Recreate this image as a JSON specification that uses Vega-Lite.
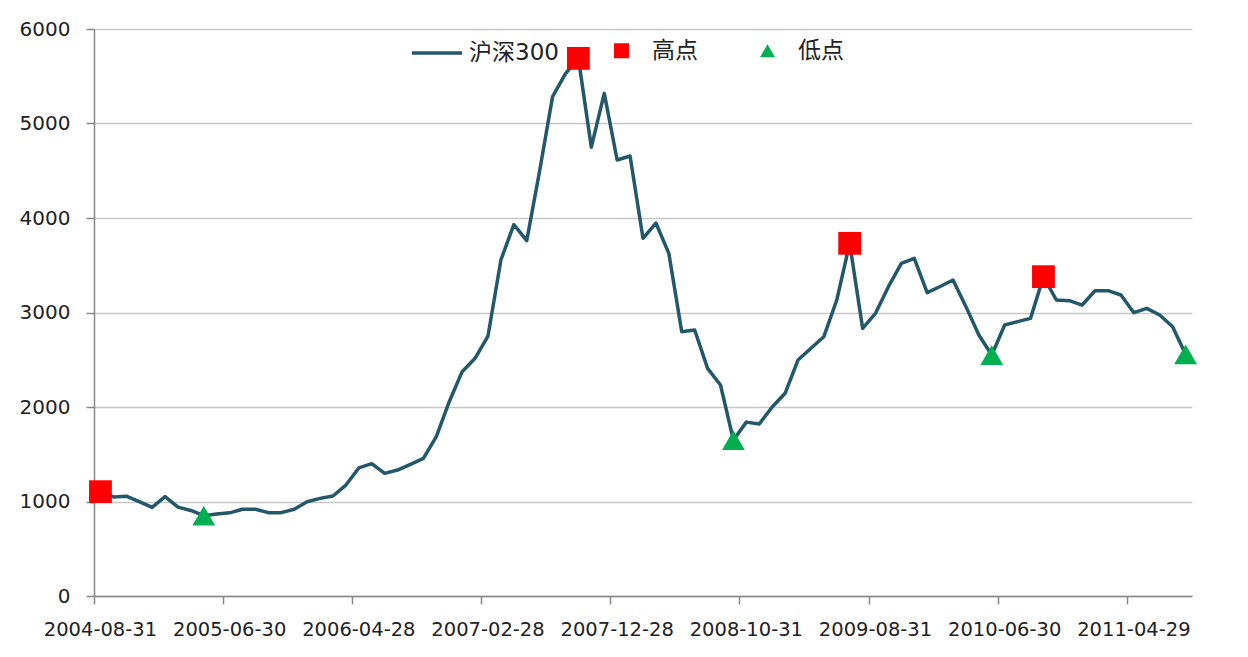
{
  "$schema": "https://vega.github.io/schema/vega-lite/v6.json",
  "width": 1098,
  "height": 567,
  "autosize": {"type": "none"},
  "padding": {"left": 94, "top": 29, "right": 56, "bottom": 61},
  "background": "white",
  "config": {"view": {"stroke": null}, "font": "DejaVu Sans"},
  "data": {"values": [
    {"date": "2004-08-31", "value": 1104, "flag": "高点"},
    {"date": "2004-09-30", "value": 1048},
    {"date": "2004-10-29", "value": 1056},
    {"date": "2004-11-30", "value": 998},
    {"date": "2004-12-31", "value": 938},
    {"date": "2005-01-31", "value": 1051},
    {"date": "2005-02-28", "value": 940},
    {"date": "2005-03-31", "value": 905},
    {"date": "2005-04-29", "value": 850, "flag": "低点"},
    {"date": "2005-05-31", "value": 868},
    {"date": "2005-06-30", "value": 880},
    {"date": "2005-07-29", "value": 918},
    {"date": "2005-08-31", "value": 918},
    {"date": "2005-09-30", "value": 882},
    {"date": "2005-10-31", "value": 882},
    {"date": "2005-11-30", "value": 918},
    {"date": "2005-12-30", "value": 998},
    {"date": "2006-01-25", "value": 1033},
    {"date": "2006-02-28", "value": 1058},
    {"date": "2006-03-31", "value": 1174},
    {"date": "2006-04-28", "value": 1355},
    {"date": "2006-05-31", "value": 1400},
    {"date": "2006-06-30", "value": 1298},
    {"date": "2006-07-31", "value": 1333},
    {"date": "2006-08-31", "value": 1393},
    {"date": "2006-09-29", "value": 1457},
    {"date": "2006-10-31", "value": 1686},
    {"date": "2006-11-30", "value": 2056},
    {"date": "2006-12-29", "value": 2374},
    {"date": "2007-01-31", "value": 2515},
    {"date": "2007-02-28", "value": 2751},
    {"date": "2007-03-30", "value": 3556},
    {"date": "2007-04-30", "value": 3930},
    {"date": "2007-05-31", "value": 3760},
    {"date": "2007-06-29", "value": 4500},
    {"date": "2007-07-31", "value": 5284},
    {"date": "2007-08-31", "value": 5527},
    {"date": "2007-09-28", "value": 5689, "flag": "高点"},
    {"date": "2007-10-31", "value": 4750},
    {"date": "2007-11-30", "value": 5319},
    {"date": "2007-12-28", "value": 4614},
    {"date": "2008-01-31", "value": 4656},
    {"date": "2008-02-29", "value": 3785},
    {"date": "2008-03-31", "value": 3947},
    {"date": "2008-04-30", "value": 3626},
    {"date": "2008-05-30", "value": 2797},
    {"date": "2008-06-30", "value": 2815},
    {"date": "2008-07-31", "value": 2409},
    {"date": "2008-08-29", "value": 2233},
    {"date": "2008-09-26", "value": 1650, "flag": "低点"},
    {"date": "2008-10-31", "value": 1840},
    {"date": "2008-11-28", "value": 1820},
    {"date": "2008-12-31", "value": 2000},
    {"date": "2009-01-23", "value": 2145},
    {"date": "2009-02-27", "value": 2497},
    {"date": "2009-03-31", "value": 2621},
    {"date": "2009-04-30", "value": 2744},
    {"date": "2009-05-27", "value": 3132},
    {"date": "2009-06-30", "value": 3732, "flag": "高点"},
    {"date": "2009-07-31", "value": 2833},
    {"date": "2009-08-31", "value": 2991},
    {"date": "2009-09-30", "value": 3273},
    {"date": "2009-10-30", "value": 3520},
    {"date": "2009-11-30", "value": 3573},
    {"date": "2009-12-31", "value": 3210},
    {"date": "2010-01-29", "value": 3275},
    {"date": "2010-02-26", "value": 3344},
    {"date": "2010-03-31", "value": 3062},
    {"date": "2010-04-30", "value": 2762},
    {"date": "2010-05-31", "value": 2550, "flag": "低点"},
    {"date": "2010-06-30", "value": 2868},
    {"date": "2010-07-30", "value": 2903},
    {"date": "2010-08-31", "value": 2938},
    {"date": "2010-09-30", "value": 3379, "flag": "高点"},
    {"date": "2010-10-29", "value": 3132},
    {"date": "2010-11-30", "value": 3125},
    {"date": "2010-12-31", "value": 3079},
    {"date": "2011-01-31", "value": 3231},
    {"date": "2011-02-28", "value": 3231},
    {"date": "2011-03-31", "value": 3185},
    {"date": "2011-04-29", "value": 2998},
    {"date": "2011-05-31", "value": 3044},
    {"date": "2011-06-30", "value": 2974},
    {"date": "2011-07-29", "value": 2850},
    {"date": "2011-08-31", "value": 2557, "flag": "低点"}
  ]},
  "encoding": {
    "x": {
      "field": "date", "type": "ordinal", "bandPosition": 0.5,
      "scale": {"type": "band", "paddingInner": 0, "paddingOuter": 0},
      "axis": {
        "values": ["2004-08-31", "2005-06-30", "2006-04-28", "2007-02-28", "2007-12-28", "2008-10-31", "2009-08-31", "2010-06-30", "2011-04-29"],
        "bandPosition": 0, "labelAngle": 0, "title": null, "grid": false,
        "tickSize": 8, "labelPadding": 16, "labelFontSize": 19.5, "labelColor": "#222222",
        "labelFont": "DejaVu Sans", "labelFlush": false, "labelOverlap": false,
        "domainColor": "#888888", "tickColor": "#888888", "domainWidth": 1.5, "tickWidth": 1.5
      }
    },
    "y": {
      "field": "value", "type": "quantitative",
      "scale": {"domain": [0, 6000], "nice": false, "zero": true},
      "axis": {
        "values": [0, 1000, 2000, 3000, 4000, 5000, 6000], "format": "d",
        "title": null, "grid": true, "gridColor": "#C8C8C8", "gridWidth": 1.5,
        "tickSize": 8, "labelPadding": 16, "labelFontSize": 20, "labelColor": "#222222",
        "labelFont": "DejaVu Sans", "labelFlush": false,
        "domainColor": "#888888", "tickColor": "#888888", "domainWidth": 1.5, "tickWidth": 1.5
      }
    }
  },
  "layer": [
    {
      "mark": {"type": "line", "strokeWidth": 3.5, "strokeJoin": "round"},
      "encoding": {
        "stroke": {
          "datum": "沪深300", "type": "nominal",
          "scale": {"domain": ["沪深300"], "range": ["#22586A"]},
          "legend": {
            "orient": "none", "legendX": 316, "legendY": -3, "title": null, "padding": 0,
            "symbolType": "stroke", "symbolSize": 2500, "symbolStrokeWidth": 3.5,
            "labelFontSize": 23, "labelOffset": 5, "labelColor": "#222222",
            "labelFont": "DejaVu Sans, Noto Sans CJK SC"
          }
        }
      }
    },
    {
      "transform": [{"filter": {"field": "flag", "oneOf": ["高点", "低点"]}}],
      "mark": {"type": "point", "filled": true, "opacity": 1, "size": 520},
      "encoding": {
        "color": {
          "field": "flag", "type": "nominal",
          "scale": {"domain": ["高点", "低点"], "range": ["#FF0000", "#00B050"]},
          "legend": {
            "orient": "none", "legendX": 516, "legendY": 10, "title": null, "padding": 0,
            "direction": "horizontal", "columnPadding": 58, "symbolSize": 225,
            "labelFontSize": 23, "labelOffset": 19, "labelColor": "#222222",
            "labelFont": "DejaVu Sans, Noto Sans CJK SC"
          }
        },
        "shape": {
          "field": "flag", "type": "nominal",
          "scale": {"domain": ["高点", "低点"], "range": ["square", "triangle-up"]},
          "legend": {
            "orient": "none", "legendX": 516, "legendY": 10, "title": null, "padding": 0,
            "direction": "horizontal", "columnPadding": 58, "symbolSize": 225,
            "labelFontSize": 23, "labelOffset": 19, "labelColor": "#222222",
            "labelFont": "DejaVu Sans, Noto Sans CJK SC"
          }
        }
      }
    }
  ]
}
